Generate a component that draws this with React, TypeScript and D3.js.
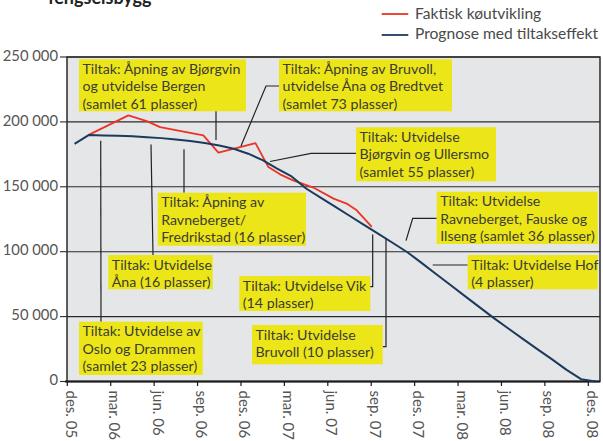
import React from "react";
import * as d3 from "d3";

// quarter tick labels, des. 05 .. des. 08 (months since Dec 2005 = index * 3)
const tickLabels = [
  "des. 05", "mar. 06", "jun. 06", "sep. 06",
  "des. 06", "mar. 07", "jun. 07", "sep. 07",
  "des. 07", "mar. 08", "jun. 08", "sep. 08", "des. 08",
];

const yTicks = [0, 50000, 100000, 150000, 200000, 250000];

// Prognose med tiltakseffekt, one value per month (mid month), from Dec 2005
const prognose = [
  183000, 190000, 189600, 189400, 189000, 188200, 187500, 186500, 185200,
  183800, 181800, 179300, 175500, 170500, 164000, 158000, 148700, 141700,
  134700, 127700, 120700, 113800, 106700, 99600, 91200, 82600, 74100,
  65600, 57100, 48600, 40600, 32600, 24800, 17000, 9000, 1800, 0,
];

// Faktisk køutvikling, measured at (months since start of Dec 2005)
const faktiskMonths = [
  1.48, 4.22, 5.49, 6.41, 9.4, 10.44, 11.94, 13.0, 13.9, 14.7, 15.6, 17.0,
  18.4, 19.3, 20.0, 21.04,
];
const faktiskValues = [
  190000, 205000, 200600, 196000, 189600, 176300, 180600, 183700, 165200,
  159600, 155000, 149400, 140900, 137100, 131900, 119100,
];

// annotation boxes: text lines, box and connector (pixels)
const notes = [
  { lines: ["Tiltak: Åpning av Bjørgvin", "og utvidelse Bergen", "(samlet 61 plasser)"],
    box: [79, 59.3, 167, 52], conn: [[216, 111], [216, 140]] },
  { lines: ["Tiltak: Åpning av Bruvoll,", "utvidelse Åna og Bredtvet", "(samlet 73 plasser)"],
    box: [279, 59.3, 173, 52], conn: [[279, 86], [266, 86], [241, 146]] },
  { lines: ["Tiltak: Utvidelse", "Bjørgvin og Ullersmo", "(samlet 55 plasser)"],
    box: [356, 127.3, 140, 54], conn: [[356, 153.3], [311, 153.3], [270, 161.5]] },
  { lines: ["Tiltak: Åpning av", "Ravneberget/", "Fredrikstad (16 plasser)"],
    box: [157.7, 192.7, 148.3, 53], conn: [[184, 192.7], [184, 149.3]] },
  { lines: ["Tiltak: Utvidelse", "Åna (16 plasser)"],
    box: [108.3, 255, 104.4, 34.3], conn: [[153, 255], [151, 144.5]] },
  { lines: ["Tiltak: Utvidelse av", "Oslo og Drammen", "(samlet 23 plasser)"],
    box: [79, 321.7, 123.7, 53.3], conn: [[101, 321.7], [100.7, 140.7]] },
  { lines: ["Tiltak: Utvidelse Vik", "(14 plasser)"],
    box: [239.3, 276, 131, 35], conn: [[370, 286.7], [372.7, 286.7], [372.7, 234.5]] },
  { lines: ["Tiltak: Utvidelse", "Bruvoll (10 plasser)"],
    box: [252, 325, 130.7, 39.3], conn: [[382.7, 346.7], [386, 346.7], [386, 239]] },
  { lines: ["Tiltak: Utvidelse", "Ravneberget, Fauske og", "Ilseng (samlet 36 plasser)"],
    box: [436.7, 191.7, 161, 52.3], conn: [[436.7, 218.3], [412.7, 218.3], [406, 240.7]] },
  { lines: ["Tiltak: Utvidelse Hof", "(4 plasser)"],
    box: [467.7, 255, 130, 34.3], conn: [[467.7, 265], [432.7, 265]] },
];

const font = "Lato, 'Open Sans', sans-serif";

export default function App() {
  const width = 603;
  const height = 441;
  const plot = { left: 67, top: 57, right: 600, bottom: 381.5 };

  const x = d3.scaleLinear().domain([0, 36]).range([67.3, 588.3]);
  const y = d3.scaleLinear().domain([0, 250000]).range([plot.bottom, plot.top]);

  const fmt = d3.formatLocale({
    decimal: ",", thousands: " ", grouping: [3], currency: ["", ""],
  }).format(",");

  const line = d3.line<[number, number]>().x((d) => x(d[0])).y((d) => y(d[1]));
  const progPts: [number, number][] = prognose.map((v, i) => [i + 0.5, v]);
  const faktPts: [number, number][] = faktiskValues.map((v, i) => [faktiskMonths[i], v]);

  return (
    <svg width={width} height={height} style={{ position: "absolute", left: 0, top: 0, background: "#fff" }}>
      {/* cut-off title */}
      <text x={48} y={4} fontFamily={font} fontWeight={700} fontSize={18} fill="#222">
        fengselsbygg
      </text>

      {/* legend */}
      <line x1={381.7} x2={408.3} y1={14} y2={14} stroke="#ee3224" strokeWidth={1.8} />
      <text x={415} y={15} dominantBaseline="middle" fontFamily={font} fontSize={15.6} fill="#4a4a4a">
        Faktisk køutvikling
      </text>
      <line x1={381.7} x2={408.3} y1={35} y2={35} stroke="#1b3a5c" strokeWidth={1.8} />
      <text x={415} y={35} dominantBaseline="middle" fontFamily={font} fontSize={15.6} fill="#4a4a4a">
        Prognose med tiltakseffekt
      </text>

      {/* plot background */}
      <rect x={plot.left} y={plot.top} width={plot.right - plot.left} height={plot.bottom - plot.top} fill="#e5e6e8" />

      {/* gridlines + y labels */}
      {yTicks.map((t) => (
        <g key={t}>
          <line x1={plot.left} x2={plot.right} y1={y(t)} y2={y(t)} stroke="#2a2a2a" strokeWidth={1.1} />
          <line x1={60} x2={plot.left} y1={y(t)} y2={y(t)} stroke="#2a2a2a" strokeWidth={1.1} />
          <text x={58} y={y(t)} textAnchor="end" dominantBaseline="middle" fontFamily={font} fontSize={14.8} fill="#555">
            {fmt(t)}
          </text>
        </g>
      ))}

      {/* frame */}
      <rect x={plot.left} y={plot.top} width={plot.right - plot.left} height={plot.bottom - plot.top}
        fill="none" stroke="#2a2a2a" strokeWidth={1.5} />
      <line x1={65} x2={plot.right} y1={plot.bottom} y2={plot.bottom} stroke="#1a1a1a" strokeWidth={2} />

      {/* x ticks */}
      {tickLabels.map((lab, i) => (
        <g key={lab}>
          <line x1={x(i * 3)} x2={x(i * 3)} y1={plot.bottom} y2={plot.bottom + 4.5} stroke="#1a1a1a" strokeWidth={1.2} />
          <text transform={`translate(${x(i * 3) - 1.5},${plot.bottom + 9}) rotate(90)`}
            fontFamily={font} fontSize={15} fill="#555">
            {lab}
          </text>
        </g>
      ))}

      {/* series */}
      <path d={line(faktPts) ?? ""} fill="none" stroke="#ee3224" strokeWidth={1.8} strokeLinejoin="round" />
      <path d={line(progPts) ?? ""} fill="none" stroke="#1b3a5c" strokeWidth={2} strokeLinejoin="round" />

      {/* annotations */}
      {notes.map((n, k) => (
        <g key={k}>
          <polyline points={n.conn.map((p) => p.join(",")).join(" ")} fill="none" stroke="#222" strokeWidth={1.2} />
          <rect x={n.box[0]} y={n.box[1]} width={n.box[2]} height={n.box[3]} fill="#ece619" />
          {n.lines.map((l, j) => (
            <text key={j} x={n.box[0] + 3.5} y={n.box[1] + 14.5 + j * 17.6}
              fontFamily={font} fontSize={14.2} fill="#3c3c32">
              {l}
            </text>
          ))}
        </g>
      ))}
    </svg>
  );
}
